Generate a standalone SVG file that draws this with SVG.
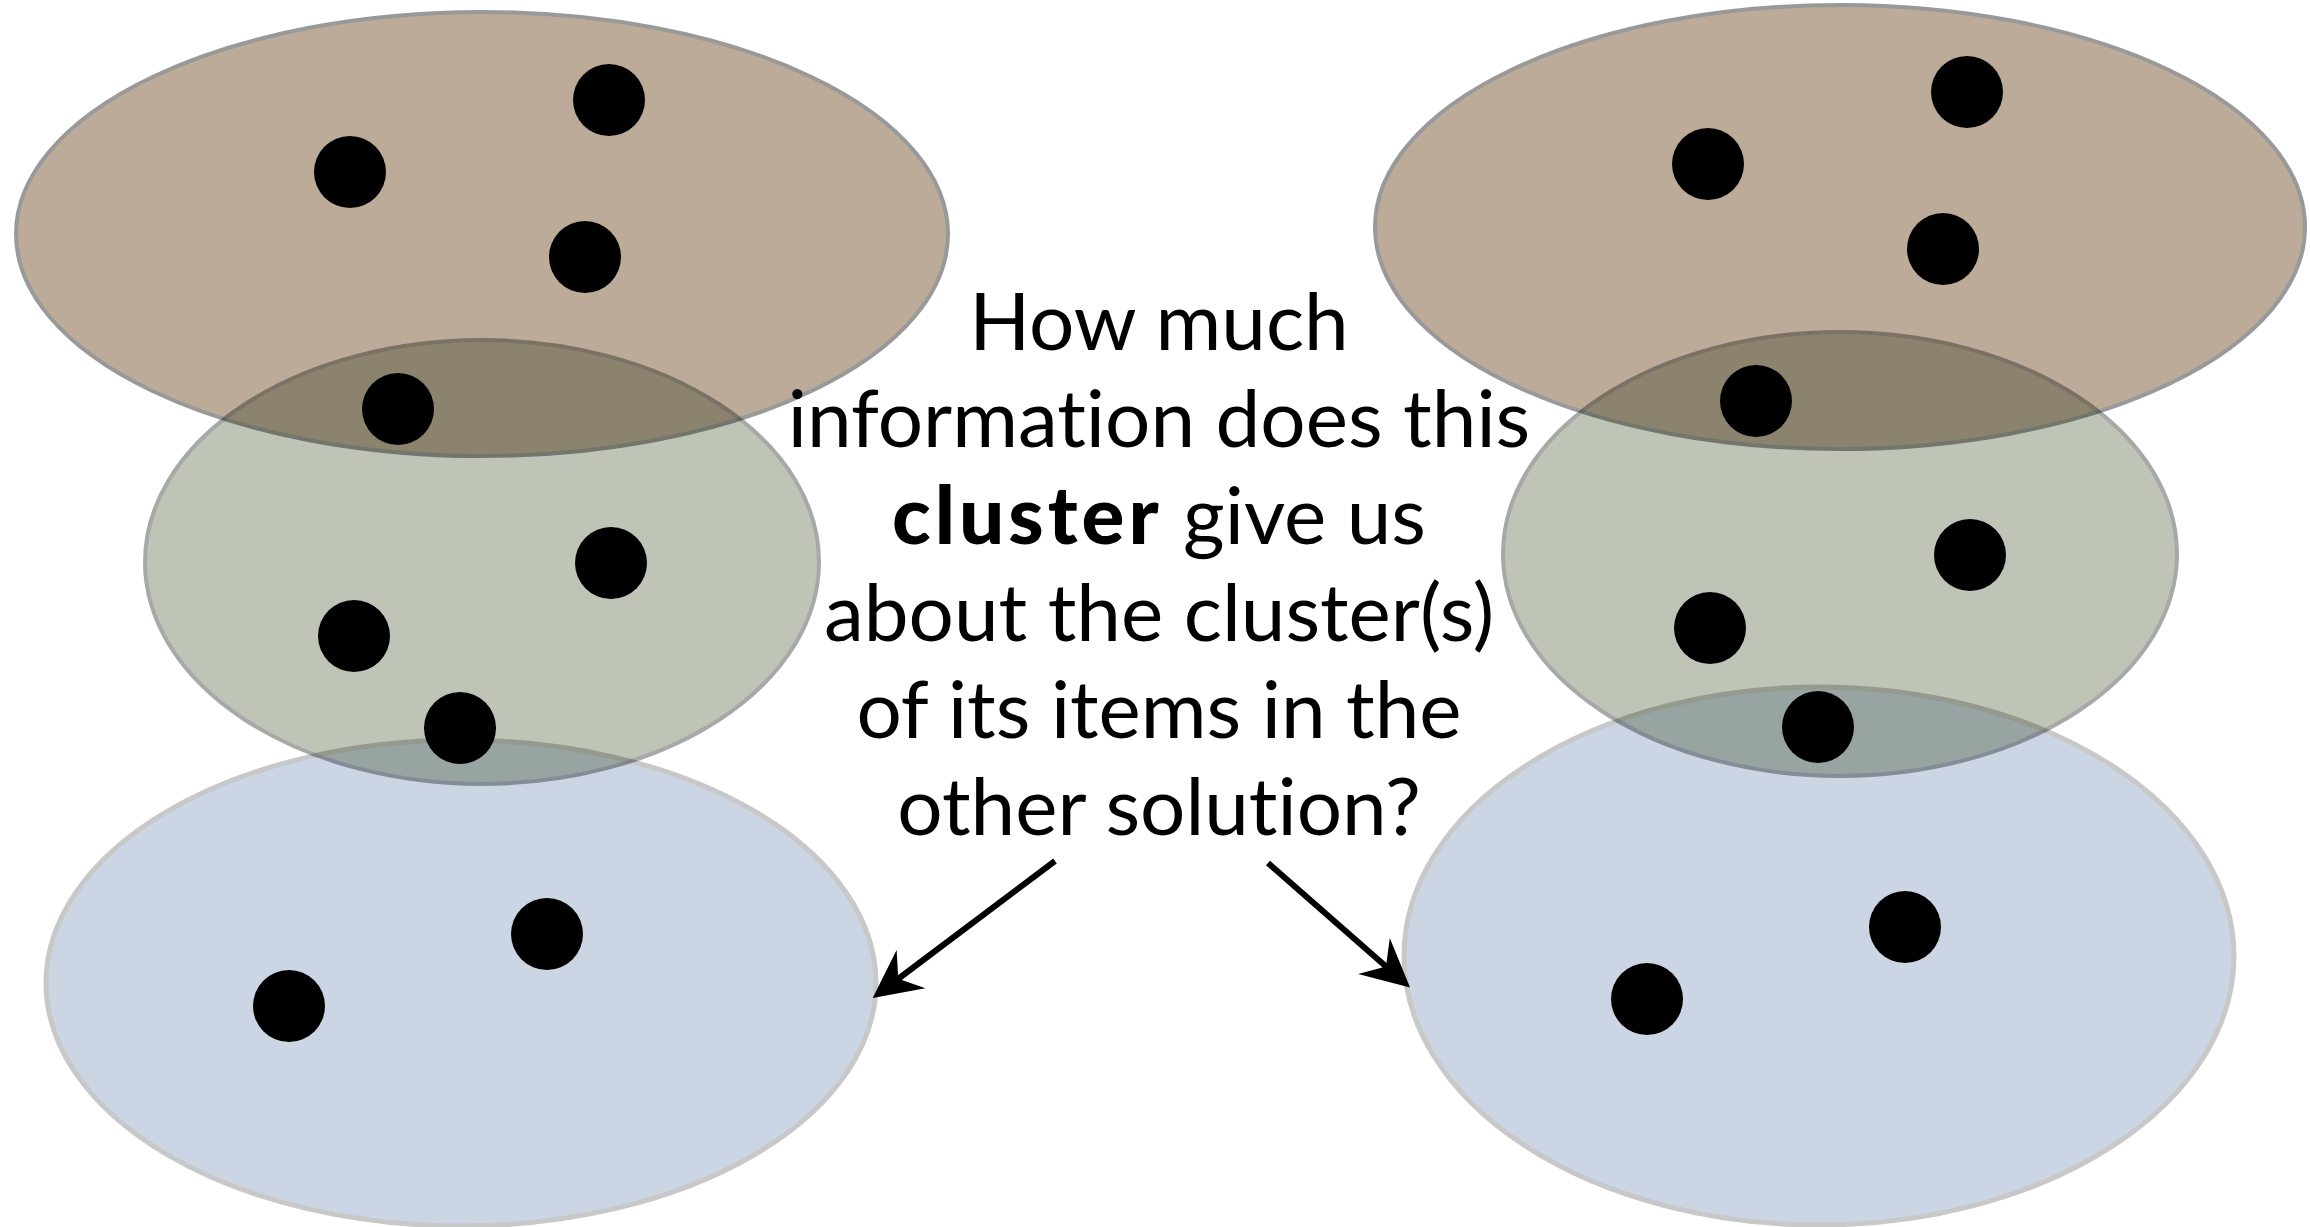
<svg xmlns="http://www.w3.org/2000/svg" width="2310" height="1227" viewBox="0 0 2310 1227">
  <style>
    .cl { mix-blend-mode: multiply; }
    .top { fill: #bbab98; stroke: #999999; stroke-width: 4; }
    .mid { fill: #bec4b6; stroke: #a8a8a8; stroke-width: 4; }
    .bot { fill: #cbd5e3; stroke: #c8c8c8; stroke-width: 5; }
    .dot { fill: #000000; }
    .q { font-family: Lato, "Liberation Sans", sans-serif; font-size: 80px; fill: #000000; text-anchor: middle; font-variant-ligatures: none; font-feature-settings: "liga" 0; }
    .b { font-weight: 900; letter-spacing: 4px; }
    .arr { stroke: #000000; stroke-width: 6; fill: none; marker-end: url(#head); }
  </style>
  <defs>
    <marker id="head" markerUnits="userSpaceOnUse" markerWidth="60" markerHeight="60" refX="0" refY="0" viewBox="-20 -20 45 40" orient="auto" overflow="visible">
      <path d="M20,0 L-16,-18 L-4,0 L-16,18 Z" fill="#000000"/>
    </marker>
  </defs>
  <rect x="0" y="0" width="2310" height="1227" fill="#ffffff"/>

  <g id="left-top-cluster">
    <ellipse class="cl top" cx="482" cy="234" rx="466" ry="222"/>
  </g>
  <g id="left-middle-cluster">
    <ellipse class="cl mid" cx="482" cy="562" rx="337" ry="222"/>
  </g>
  <g id="left-bottom-cluster">
    <ellipse class="cl bot" cx="461" cy="983" rx="415" ry="243"/>
  </g>
  <g id="right-top-cluster">
    <ellipse class="cl top" cx="1840" cy="227" rx="465" ry="222"/>
  </g>
  <g id="right-middle-cluster">
    <ellipse class="cl mid" cx="1840" cy="554" rx="337" ry="222"/>
  </g>
  <g id="right-bottom-cluster">
    <ellipse class="cl bot" cx="1819" cy="956" rx="415" ry="269"/>
  </g>

  <g id="left-items">
    <circle class="dot" cx="609" cy="100" r="36"/>
    <circle class="dot" cx="350" cy="172" r="36"/>
    <circle class="dot" cx="585" cy="257" r="36"/>
    <circle class="dot" cx="398" cy="409" r="36"/>
    <circle class="dot" cx="611" cy="563" r="36"/>
    <circle class="dot" cx="354" cy="636" r="36"/>
    <circle class="dot" cx="460" cy="728" r="36"/>
    <circle class="dot" cx="547" cy="934" r="36"/>
    <circle class="dot" cx="289" cy="1006" r="36"/>
  </g>
  <g id="right-items">
    <circle class="dot" cx="1967" cy="92" r="36"/>
    <circle class="dot" cx="1708" cy="164" r="36"/>
    <circle class="dot" cx="1943" cy="249" r="36"/>
    <circle class="dot" cx="1756" cy="401" r="36"/>
    <circle class="dot" cx="1970" cy="555" r="36"/>
    <circle class="dot" cx="1710" cy="628" r="36"/>
    <circle class="dot" cx="1818" cy="727" r="36"/>
    <circle class="dot" cx="1905" cy="927" r="36"/>
    <circle class="dot" cx="1647" cy="999" r="36"/>
  </g>

  <g id="question">
    <text class="q" x="1159" y="350">How much</text>
    <text class="q" x="1159" y="447">information does this</text>
    <text class="q" x="1159" y="544"><tspan class="b">cluster</tspan> give us</text>
    <text class="q" x="1159" y="641">about the cluster(s)</text>
    <text class="q" x="1159" y="738">of its items in the</text>
    <text class="q" x="1159" y="835">other solution?</text>
  </g>

  <g id="connectors">
    <line class="arr" x1="1055" y1="861" x2="894" y2="982"/>
    <line class="arr" x1="1268" y1="863" x2="1390" y2="970"/>
  </g>
</svg>
